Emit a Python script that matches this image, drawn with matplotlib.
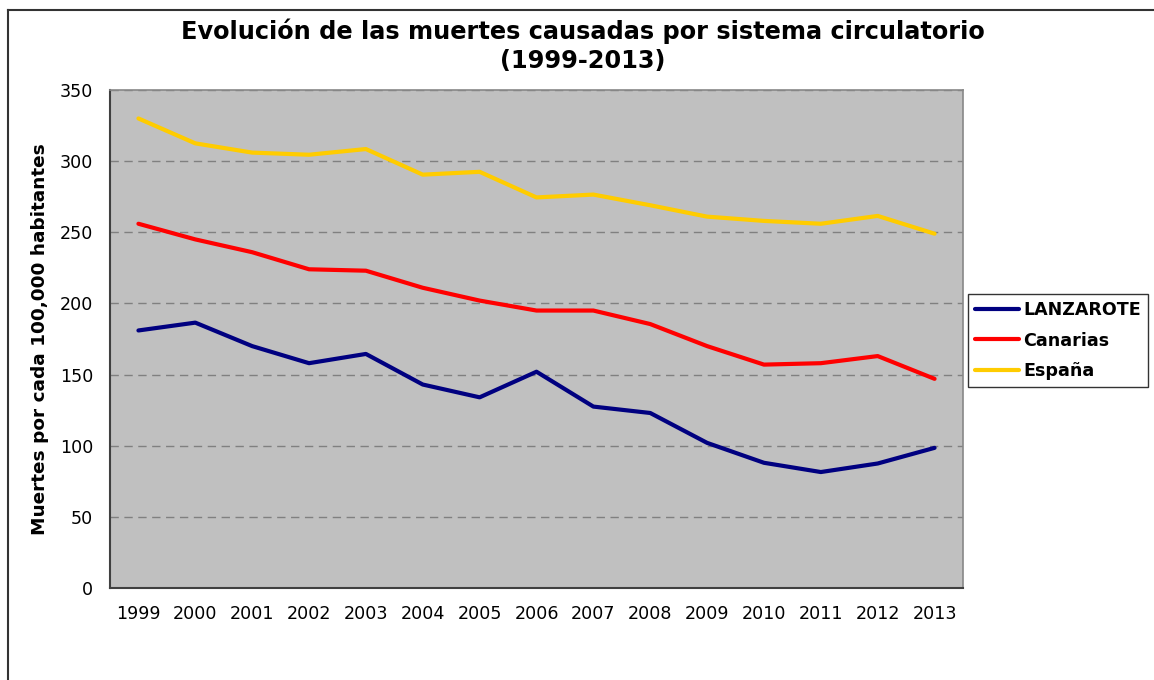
import matplotlib
matplotlib.use("Agg")
import matplotlib.pyplot as plt
from matplotlib.lines import Line2D

years = ["1999", "2000", "2001", "2002", "2003", "2004", "2005", "2006",
         "2007", "2008", "2009", "2010", "2011", "2012", "2013"]
lanzarote = [181, 186.5, 170, 158, 164.5, 143, 134, 152, 127.5, 123, 102, 88, 81.5, 87.5, 98.5]
canarias = [256, 245, 236, 224, 223, 211, 202, 195, 195, 185.5, 170, 157, 158, 163, 147]
espana = [330, 312.5, 306, 304.5, 308.5, 290.5, 292.5, 274.5, 276.5, 269, 261, 258, 256, 261.5, 249]

series = [("LANZAROTE", lanzarote, "#000080"),
          ("Canarias", canarias, "#FF0000"),
          ("España", espana, "#FFCC00")]

W, H = 1154, 680
fig = plt.figure(figsize=(W / 100, H / 100), dpi=100)
fig.patch.set_facecolor("white")

# outer frame lines (top and left)
fig.add_artist(Line2D([8 / W, 1], [1 - 10 / H, 1 - 10 / H], color="#333333", lw=1.5, transform=fig.transFigure))
fig.add_artist(Line2D([8 / W, 8 / W], [0, 1 - 10 / H], color="#333333", lw=1.5, transform=fig.transFigure))

left, right, top, bottom = 110, 963, 90, 588
ax = fig.add_axes([left / W, 1 - bottom / H, (right - left) / W, (bottom - top) / H])
ax.set_facecolor("#C0C0C0")

x = list(range(len(years)))
for name, vals, col in series:
    ax.plot(x, vals, color=col, lw=3.0, label=name, solid_capstyle="round", solid_joinstyle="round")

ax.set_xlim(-0.5, len(years) - 0.5)
ax.set_ylim(0, 350)
ax.set_yticks(range(0, 351, 50))
ax.set_xticks(x)
ax.set_xticklabels(years)
ax.tick_params(axis="both", length=0, labelsize=12.6, colors="black")
ax.tick_params(axis="x", pad=12)
ax.tick_params(axis="y", pad=12)
ax.yaxis.grid(True, color="#808080", linestyle=(0, (6, 4)), lw=1)
ax.set_axisbelow(True)

for s in ["left", "bottom"]:
    ax.spines[s].set_color("#404040")
    ax.spines[s].set_linewidth(1.5)
for s in ["top", "right"]:
    ax.spines[s].set_color("#888888")
    ax.spines[s].set_linewidth(1.2)

ax.set_ylabel("Muertes por cada 100,000 habitantes", fontsize=13.3, fontweight="bold", labelpad=8)

fig.text(583 / W, 1 - 31 / H, "Evolución de las muertes causadas por sistema circulatorio",
         ha="center", va="center", fontsize=17.3, fontweight="bold")
fig.text(583 / W, 1 - 61 / H, "(1999-2013)", ha="center", va="center", fontsize=17.3, fontweight="bold")

leg = fig.legend(loc="upper left", bbox_to_anchor=(968 / W, 1 - 294 / H),
                 frameon=True, fancybox=False, prop={"weight": "bold", "size": 12.6},
                 handlelength=2.5, handletextpad=0.25, borderpad=0.4, labelspacing=0.72,
                 borderaxespad=0)
leg.get_frame().set_edgecolor("black")
leg.get_frame().set_linewidth(1)

fig.savefig("out.png", dpi=100)
